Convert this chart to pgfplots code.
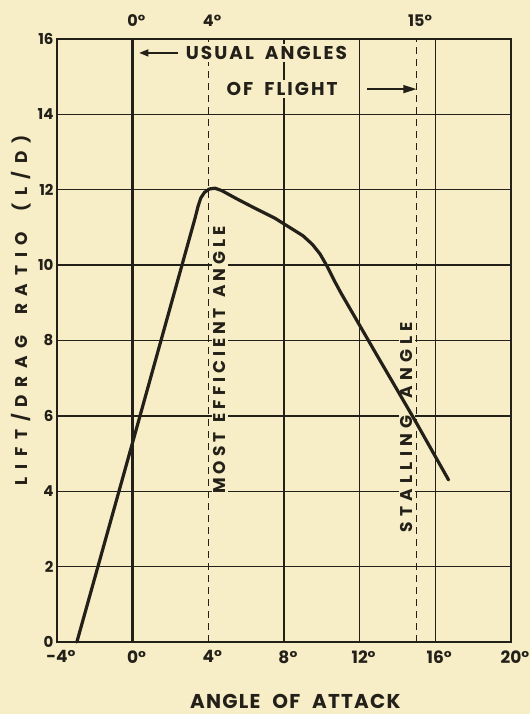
\documentclass[border=0pt]{standalone}
\usepackage{fontspec}
\setmainfont{Poppins}
\newfontfamily\ylabfam{Poppins}[LetterSpace=46]
\newfontfamily\xlabfam{Poppins}[LetterSpace=6]
\newfontfamily\innerfam{Poppins}[LetterSpace=11]
\newfontfamily\mostfam{Poppins}[LetterSpace=23]
\newfontfamily\stallfam{Poppins}[LetterSpace=31]
\usepackage{pgfplots}
\pgfplotsset{compat=1.18}
\usetikzlibrary{arrows.meta}
\definecolor{paper}{RGB}{247,237,198}
\definecolor{ink}{RGB}{35,32,25}
\newcommand{\lab}{\bfseries\fontsize{15}{15}\selectfont}
\newcommand{\xlab}{\bfseries\fontsize{17}{17}\selectfont}
\newcommand{\gap}[1]{\hspace{#1em}}
\begin{document}
\begin{tikzpicture}
\fill[paper] (-57pt,-72pt) rectangle (473pt,642pt);
\begin{axis}[
  at={(0,0)}, anchor=south west,
  scale only axis, width=454pt, height=603pt,
  xmin=-4, xmax=20, ymin=0, ymax=16,
  xtick={-4,0,4,8,12,16,20},
  xticklabels={-4\rlap{°},0\rlap{°},4\rlap{°},8\rlap{°},12\rlap{°},16\rlap{°},20\rlap{°}},
  ytick={0,2,...,16},
  ymajorgrids,
  extra x ticks={8,12,16},
  extra x tick labels={},
  extra x tick style={grid=major},
  major tick length=0pt,
  axis line style={ink, line width=2.2pt},
  grid style={ink, line width=1.3pt},
  tick label style={font=\lab, text=ink},
  xticklabel style={font=\xlab, yshift=-5pt},
  /pgf/number format/assume math mode=true,
  xlabel={ANGLE\gap{0.6}OF\gap{0.6}ATTACK},
  ylabel={LIFT/\gap{0.35}DRAG\gap{1.2}RATIO\gap{1.2}(L/D)},
  xlabel style={at={(axis description cs:0.525,0)}, anchor=center, yshift=-59pt, font=\xlabfam\bfseries\fontsize{20}{20}\selectfont, text=ink},
  ylabel style={at={(axis description cs:-0.079,0.55)}, anchor=center, font=\ylabfam\bfseries\fontsize{17}{17}\selectfont, text=ink},
  clip=false,
]
\addplot[ink, line width=2.6pt] coordinates {(0,0) (0,16)};
\addplot[ink, line width=1.3pt, dash pattern=on 7pt off 5pt] coordinates {(4,0) (4,16)};
\addplot[ink, line width=1.3pt, dash pattern=on 7pt off 5pt] coordinates {(15,0) (15,16)};
\node[font=\mostfam\bfseries\fontsize{17}{17}\selectfont, text=ink, fill=paper, inner sep=2pt, rotate=90] at (axis cs:4.6,7.48) {MOST\gap{0.6}EFFICIENT\gap{0.6}ANGLE};
\node[font=\stallfam\bfseries\fontsize{17}{17}\selectfont, text=ink, fill=paper, inner sep=2pt, rotate=90] at (axis cs:14.5,5.7) {STALLING\gap{1.0}ANGLE};
\node[font=\innerfam\bfseries\fontsize{18.5}{18.5}\selectfont, text=ink, fill=paper, inner sep=2pt] at (axis cs:7.07,15.63) {USUAL\gap{0.6}ANGLES};
\node[font=\innerfam\bfseries\fontsize{18.5}{18.5}\selectfont, text=ink, fill=paper, inner sep=2pt] at (axis cs:7.9,14.67) {OF\gap{0.6}FLIGHT};
\draw[ink, line width=1.3pt, -{Triangle[length=9pt,width=7pt]}] (axis cs:2.4,15.63) -- (axis cs:0.35,15.63);
\draw[ink, line width=1.3pt, -{Triangle[length=13pt,width=8pt]}] (axis cs:12.4,14.67) -- (axis cs:15,14.67);
\addplot[ink, line width=3.2pt, line join=round, line cap=round] coordinates {
(-2.95,0) (0,5.3) (3.3,11.25) (3.45,11.55) (3.6,11.78) (3.8,11.93) (4.05,12.02) (4.35,12.04) (4.7,11.98)
(5.5,11.76) (6.5,11.5) (7.5,11.25) (8.3,11.0) (9.0,10.78) (9.5,10.55) (9.9,10.3) (10.3,9.95) (10.7,9.55)
(11.0,9.27) (12.9,7.62) (14.9,5.9) (16.7,4.3)};
\node[font=\bfseries\fontsize{16}{16}\selectfont, text=ink, anchor=base] at ([yshift=12pt]axis cs:0,16) {0\rlap{°}};
\node[font=\bfseries\fontsize{16}{16}\selectfont, text=ink, anchor=base] at ([yshift=12pt]axis cs:4,16) {4\rlap{°}};
\node[font=\bfseries\fontsize{16}{16}\selectfont, text=ink, anchor=base] at ([yshift=12pt]axis cs:15,16) {15\rlap{°}};
\end{axis}
\pgfresetboundingbox
\path (-57pt,-72pt) rectangle (473pt,642pt);
\end{tikzpicture}
\end{document}
